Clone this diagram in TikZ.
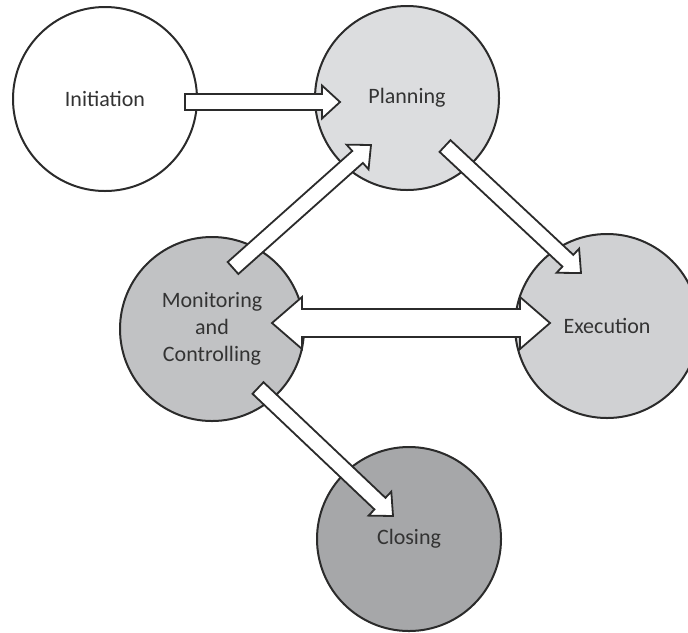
\documentclass[tikz,border=0pt]{standalone}
\usepackage{fontspec}
\setmainfont{Carlito}
\usetikzlibrary{calc}
\definecolor{linegray}{HTML}{2B2B2B}
\definecolor{textgray}{HTML}{333333}
\definecolor{planfill}{HTML}{DCDDDF}
\definecolor{execfill}{HTML}{D0D1D3}
\definecolor{monfill}{HTML}{C1C2C4}
\definecolor{closefill}{HTML}{A6A7A9}
\tikzset{
  phase/.style={circle, draw=linegray, line width=1pt, minimum size=92pt, inner sep=0pt,
    align=center, text=textgray, font=\fontsize{11}{13.5}\selectfont},
  arrowbody/.style={draw=linegray, fill=white, line width=0.9pt, line join=miter}
}
\newcommand{\blockarrow}[5]{%
  \coordinate (hb) at ($(#2)!#5!(#1)$);
  \draw[arrowbody] ($(#1)!#3!90:(#2)$) -- ($(hb)!#3!90:(#2)$) -- ($(hb)!#4!90:(#2)$) -- (#2)
    -- ($(hb)!#4!-90:(#2)$) -- ($(hb)!#3!-90:(#2)$) -- ($(#1)!#3!-90:(#2)$) -- cycle;
}
\newcommand{\twowayarrow}[5]{%
  \coordinate (hb1) at ($(#1)!#5!(#2)$);
  \coordinate (hb2) at ($(#2)!#5!(#1)$);
  \draw[arrowbody] (#1) -- ($(hb1)!#4!90:(#2)$) -- ($(hb1)!#3!90:(#2)$) -- ($(hb2)!#3!-90:(#1)$)
    -- ($(hb2)!#4!-90:(#1)$) -- (#2) -- ($(hb2)!#4!90:(#1)$) -- ($(hb2)!#3!90:(#1)$)
    -- ($(hb1)!#3!-90:(#2)$) -- ($(hb1)!#4!-90:(#2)$) -- cycle;
}
\begin{document}
\begin{tikzpicture}[x=0.5pt,y=-0.5pt]
\useasboundingbox (0,0) rectangle (688,632);
\node[phase, fill=white] (init) at (105,99) {Initiation};
\node[phase, fill=planfill] (plan) at (407,98) {Planning};
\node[phase, fill=monfill] (mon) at (212,329) {Monitoring\\and\\Controlling};
\node[phase, fill=execfill] (exec) at (607,326) {Execution};
\node[phase, fill=closefill] (close) at (409,539) {Closing};
\coordinate (initout) at (185,102);
\coordinate (planin) at (340,102);
\coordinate (monup) at (233,268);
\coordinate (planlow) at (371,145);
\coordinate (planout) at (445,146);
\coordinate (execin) at (581,273);
\coordinate (monright) at (272,323);
\coordinate (execleft) at (550,323);
\coordinate (mondown) at (258,388);
\coordinate (closein) at (393,516);
\blockarrow{initout}{planin}{4pt}{8.25pt}{9pt}
\blockarrow{monup}{planlow}{4pt}{8.25pt}{9pt}
\blockarrow{planout}{execin}{4pt}{8.25pt}{9pt}
\twowayarrow{monright}{execleft}{7pt}{13pt}{15pt}
\blockarrow{mondown}{closein}{4pt}{8.25pt}{9pt}
\end{tikzpicture}
\end{document}
